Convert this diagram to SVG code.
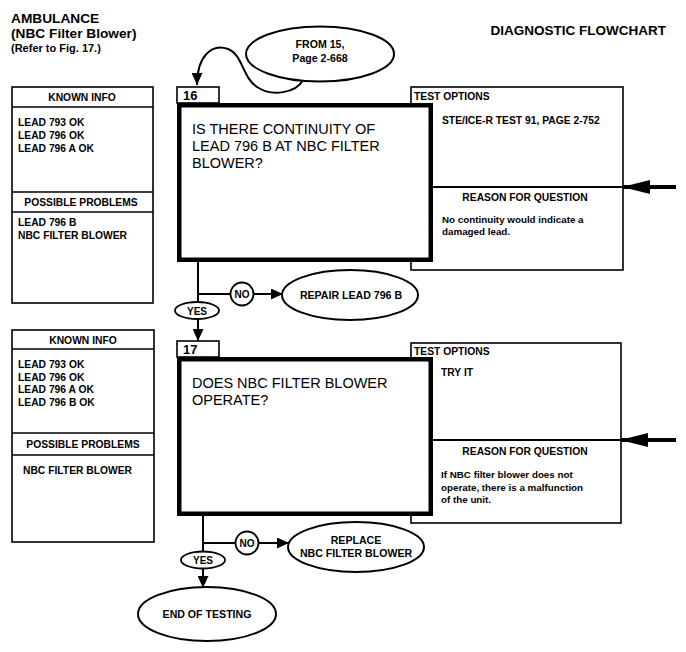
<svg xmlns="http://www.w3.org/2000/svg" width="686" height="652" viewBox="0 0 686 652">
<style>
text{font-family:"Liberation Sans",Arial,Helvetica,sans-serif;font-weight:bold;fill:#000}
.thin{fill:#fff;stroke:#000;stroke-width:1.6}
.thick{fill:#fff;stroke:#000;stroke-width:4.5}
.sm{font-size:10.3px}
.tx{font-size:9.8px}
.q{font-size:14.5px;font-weight:normal}
.ov{font-size:10.6px}
.c{text-anchor:middle}
.ln{fill:none;stroke:#000;stroke-width:2}
.bl{fill:none;stroke:#000;stroke-width:4}
.sep{stroke:#000;stroke-width:1.6}
</style>
<defs>
<marker id="ah" markerWidth="12" markerHeight="11" refX="12" refY="5.5" orient="auto" markerUnits="userSpaceOnUse"><path d="M0,0 L12,5.5 L0,11 Z" fill="#000"/></marker>
<marker id="bh" markerWidth="28" markerHeight="14" refX="28" refY="7" orient="auto" markerUnits="userSpaceOnUse"><path d="M0,0 L28,7 L0,14 Z" fill="#000"/></marker>
</defs>
<rect width="686" height="652" fill="#fff"/>

<g id="title">
<text x="11" y="23" style="font-size:13.7px">AMBULANCE</text>
<text x="11" y="38" style="font-size:13.7px">(NBC Filter Blower)</text>
<text x="11" y="52" style="font-size:11px">(Refer to Fig. 17.)</text>
<text x="666" y="35" style="font-size:13.5px" text-anchor="end">DIAGNOSTIC FLOWCHART</text>
</g>

<g id="connectors">
<path class="ln" d="M303,80 C296,93 272,97 257,87 C242,77 243,55 228,49 C212,43 197,56 197,85" marker-end="url(#ah)"/>
<path class="ln" d="M198,262 V302"/>
<path class="ln" d="M198,319 V341" marker-end="url(#ah)"/>
<path class="ln" d="M198,294 H230.5"/>
<path class="ln" d="M253.5,294 H283" marker-end="url(#ah)"/>
<path class="bl" d="M676,187 H622" marker-end="url(#bh)"/>
<path class="ln" d="M203,516 V551.5"/>
<path class="ln" d="M203,568.5 V588" marker-end="url(#ah)"/>
<path class="ln" d="M203,543 H235.5"/>
<path class="ln" d="M258.5,543 H289" marker-end="url(#ah)"/>
<path class="bl" d="M676,440 H620" marker-end="url(#bh)"/>
</g>

<g id="from15">
<ellipse class="thin" cx="320" cy="54" rx="74" ry="27.5" style="stroke-width:2"/>
<text class="ov c" x="320" y="48">FROM 15,</text>
<text class="ov c" x="320" y="62">Page 2-668</text>
</g>

<g id="known16">
<rect class="thin" x="12" y="87" width="141" height="216"/>
<line class="sep" x1="12" y1="107" x2="153" y2="107"/>
<line class="sep" x1="12" y1="192" x2="153" y2="192"/>
<line class="sep" x1="12" y1="212" x2="153" y2="212"/>
<text class="sm c" x="82" y="101">KNOWN INFO</text>
<text class="sm" x="18" y="126">LEAD 793 OK</text>
<text class="sm" x="18" y="139">LEAD 796 OK</text>
<text class="sm" x="18" y="152">LEAD 796 A OK</text>
<text class="sm c" x="81" y="206">POSSIBLE PROBLEMS</text>
<text class="sm" x="18" y="226">LEAD 796 B</text>
<text class="sm" x="18" y="239">NBC FILTER BLOWER</text>
</g>

<g id="options16">
<rect class="thin" x="411" y="87" width="212" height="183"/>
<line class="sep" x1="411" y1="187" x2="623" y2="187" style="stroke-width:2.2"/>
<text class="sm" x="414" y="100">TEST OPTIONS</text>
<text class="sm" x="442" y="124">STE/ICE-R TEST 91, PAGE 2-752</text>
<text class="sm c" x="525" y="201">REASON FOR QUESTION</text>
<text class="tx" x="442" y="223">No continuity would indicate a</text>
<text class="tx" x="442" y="235">damaged lead.</text>
</g>

<g id="step16">
<rect class="thin" x="177" y="87" width="42" height="16"/>
<text x="183" y="100" style="font-size:13px">16</text>
<rect class="thick" x="179.25" y="105.25" width="251.5" height="154.5"/>
<text class="q" x="192" y="134">IS THERE CONTINUITY OF</text>
<text class="q" x="192" y="151">LEAD 796 B AT NBC FILTER</text>
<text class="q" x="192" y="168">BLOWER?</text>
</g>

<g id="no16">
<circle class="thin" cx="242" cy="294" r="11.5" style="stroke-width:1.8"/>
<text class="c" x="242" y="298" style="font-size:10px">NO</text>
</g>

<g id="repair">
<ellipse class="thin" cx="350" cy="295" rx="68" ry="25" style="stroke-width:2"/>
<text class="ov c" x="351" y="299">REPAIR LEAD 796 B</text>
</g>

<g id="yes16">
<ellipse class="thin" cx="197" cy="310.5" rx="22" ry="8.5" style="stroke-width:1.8"/>
<text class="c" x="197" y="314.5" style="font-size:10px">YES</text>
</g>

<g id="known17">
<rect class="thin" x="12" y="330" width="142" height="212"/>
<line class="sep" x1="12" y1="349" x2="154" y2="349"/>
<line class="sep" x1="12" y1="433" x2="154" y2="433"/>
<line class="sep" x1="12" y1="455" x2="154" y2="455"/>
<text class="sm c" x="83" y="344">KNOWN INFO</text>
<text class="sm" x="18" y="368">LEAD 793 OK</text>
<text class="sm" x="18" y="380.5">LEAD 796 OK</text>
<text class="sm" x="18" y="393">LEAD 796 A OK</text>
<text class="sm" x="18" y="405.5">LEAD 796 B OK</text>
<text class="sm c" x="83" y="448">POSSIBLE PROBLEMS</text>
<text class="sm" x="23" y="474">NBC FILTER BLOWER</text>
</g>

<g id="options17">
<rect class="thin" x="411" y="343" width="210" height="180"/>
<line class="sep" x1="411" y1="440" x2="621" y2="440" style="stroke-width:2.2"/>
<text class="sm" x="414" y="355">TEST OPTIONS</text>
<text class="sm" x="441" y="376">TRY IT</text>
<text class="sm c" x="525" y="455">REASON FOR QUESTION</text>
<text class="tx" x="441" y="478">If NBC filter blower does not</text>
<text class="tx" x="441" y="490.5">operate, there is a malfunction</text>
<text class="tx" x="441" y="503">of the unit.</text>
</g>

<g id="step17">
<rect class="thin" x="177" y="341" width="42" height="16"/>
<text x="183" y="354" style="font-size:13px">17</text>
<rect class="thick" x="179.25" y="359.25" width="251.5" height="154.5"/>
<text class="q" x="192" y="388">DOES NBC FILTER BLOWER</text>
<text class="q" x="192" y="405">OPERATE?</text>
</g>

<g id="no17">
<circle class="thin" cx="247" cy="543" r="11.5" style="stroke-width:1.8"/>
<text class="c" x="247" y="547" style="font-size:10px">NO</text>
</g>

<g id="replace">
<ellipse class="thin" cx="356" cy="547" rx="68" ry="25" style="stroke-width:2"/>
<text class="ov c" x="356" y="544">REPLACE</text>
<text class="ov c" x="356" y="557">NBC FILTER BLOWER</text>
</g>

<g id="yes17">
<ellipse class="thin" cx="203" cy="560" rx="22" ry="8.5" style="stroke-width:1.8"/>
<text class="c" x="203" y="564" style="font-size:10px">YES</text>
</g>

<g id="end">
<ellipse class="thin" cx="207" cy="614" rx="69" ry="27" style="stroke-width:2"/>
<text class="ov c" x="207" y="618">END OF TESTING</text>
</g>
</svg>
